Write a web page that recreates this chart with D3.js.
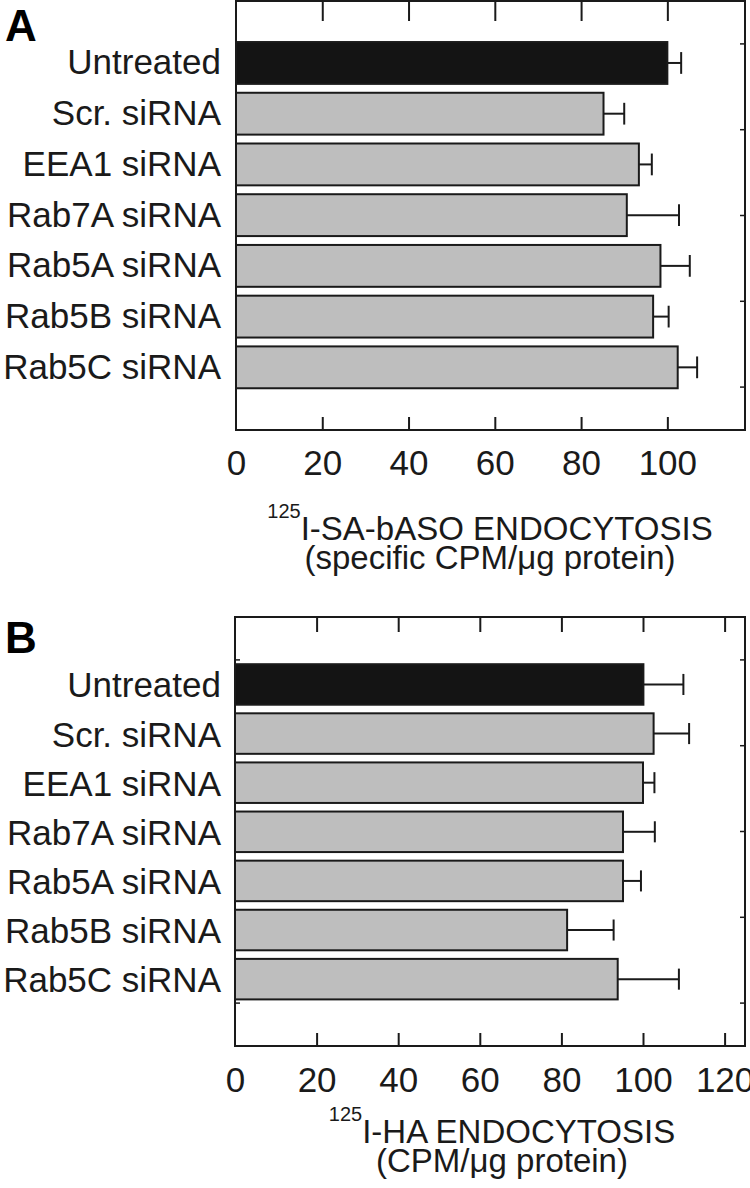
<!DOCTYPE html>
<html>
<head>
<meta charset="utf-8">
<script src="https://cdnjs.cloudflare.com/ajax/libs/d3/7.8.5/d3.min.js"></script>
<style>
  html, body { margin: 0; padding: 0; background: #fff; }
  svg { display: block; }
  text { font-family: "Liberation Sans", Arial, Helvetica, sans-serif; fill: #1a1a1a; }
</style>
</head>
<body>
<script>
// ---- data ----
const categories = ["Untreated", "Scr. siRNA", "EEA1 siRNA", "Rab7A siRNA", "Rab5A siRNA", "Rab5B siRNA", "Rab5C siRNA"];
const valuesA = [100, 85.2, 93.4, 90.6, 98.4, 96.7, 102.4];
const errorsA = [3.2, 4.8, 3.0, 12.1, 6.8, 3.6, 4.5];
const valuesB = [100.1, 102.6, 100.0, 95.1, 95.1, 81.4, 93.8];
const errorsB = [9.8, 8.7, 2.8, 7.8, 4.4, 11.4, 15.0];
const ticksA = [0, 20, 40, 60, 80, 100];
const ticksB = [0, 20, 40, 60, 80, 100, 120];
const panelLetters = ["A", "B"];
const titleA = ["125", "I-SA-bASO ENDOCYTOSIS", "(specific CPM/\u03BCg protein)"];
const titleB = ["125", "I-HA ENDOCYTOSIS", "(CPM/\u03BCg protein)"];

const W = 750, H = 1188;
const svg = d3.select("body").append("svg").attr("width", W).attr("height", H);

const panels = [
  { letter: panelLetters[0], letterY: 41, values: valuesA, errors: errorsA, ticks: ticksA, title: titleA,
    left: 236, right: 745, top: 1, bottom: 430, xmax: 118, band: [37.6, 392.7], labelDy: 11.5,
    topTick: 20, tickPad: 20, titleX: 490, titleY1: 540, titleY2: 569 },
  { letter: panelLetters[1], letterY: 653, values: valuesB, errors: errorsB, ticks: ticksB, title: titleB,
    left: 235, right: 745, top: 617, bottom: 1046, xmax: 125, band: [659.9, 1003.7], labelDy: 13,
    topTick: 15, tickPad: 21.4, titleX: 502, titleY1: 1143, titleY2: 1172 }
];

panels.forEach(p => {
  const g = svg.append("g");
  const x = d3.scaleLinear().domain([0, p.xmax]).range([p.left, p.right]);
  const y = d3.scaleBand().domain(categories).range(p.band).paddingInner(0.175).paddingOuter(0.0875);

  // panel letter
  g.append("text").attr("x", 5).attr("y", p.letterY)
    .style("font-size", "44px").style("font-weight", "bold").style("fill", "#000").text(p.letter);

  // side ticks (left & right, inward)
  const sideTicks = d3.range(5).map(i => p.top + (i + 0.5) * (p.bottom - p.top) / 5);
  g.selectAll(".lt").data(sideTicks).join("line")
    .attr("x1", p.left).attr("x2", p.left + 5).attr("y1", d => d).attr("y2", d => d)
    .attr("stroke", "#1a1a1a").attr("stroke-width", 1.5);
  g.selectAll(".rt").data(sideTicks).join("line")
    .attr("x1", p.right).attr("x2", p.right - 5).attr("y1", d => d).attr("y2", d => d)
    .attr("stroke", "#1a1a1a").attr("stroke-width", 1.5);

  // bottom axis with labels, inward ticks
  const axB = g.append("g").attr("transform", `translate(0,${p.bottom})`)
    .call(d3.axisBottom(x).tickValues(p.ticks).tickSize(-13).tickPadding(p.tickPad).tickFormat(d3.format("d")));
  axB.select(".domain").remove();
  axB.selectAll(".tick line").attr("stroke", "#1a1a1a").attr("stroke-width", 2)
    .style("display", d => d === 0 ? "none" : null);
  axB.selectAll(".tick text").style("font-size", "35px").style("font-family", "'Liberation Sans', Arial, sans-serif").attr("fill", "#1a1a1a");

  // top axis, ticks only
  const axT = g.append("g").attr("transform", `translate(0,${p.top})`)
    .call(d3.axisTop(x).tickValues(p.ticks.filter(d => d > 0)).tickSize(-p.topTick).tickFormat(""));
  axT.select(".domain").remove();
  axT.selectAll(".tick line").attr("stroke", "#1a1a1a").attr("stroke-width", 2);

  // category labels
  g.selectAll(".cat").data(categories).join("text")
    .attr("x", 221).attr("y", d => y(d) + y.bandwidth() / 2 + p.labelDy)
    .attr("text-anchor", "end").style("font-size", "35px").text(d => d);

  // error bars
  const capH = y.bandwidth() * 0.52;
  categories.forEach((c, i) => {
    const v = p.values[i], e = p.errors[i];
    const cy = y(c) + y.bandwidth() / 2;
    g.append("line").attr("x1", x(v)).attr("x2", x(v + e)).attr("y1", cy).attr("y2", cy)
      .attr("stroke", "#1a1a1a").attr("stroke-width", 2);
    g.append("line").attr("x1", x(v + e)).attr("x2", x(v + e)).attr("y1", cy - capH / 2).attr("y2", cy + capH / 2)
      .attr("stroke", "#1a1a1a").attr("stroke-width", 2);
  });

  // bars
  g.selectAll(".bar").data(categories).join("rect")
    .attr("x", x(0)).attr("y", d => y(d))
    .attr("width", (d, i) => x(p.values[i]) - x(0)).attr("height", y.bandwidth())
    .attr("fill", (d, i) => i === 0 ? "#141414" : "#bebebe")
    .attr("stroke", "#1a1a1a").attr("stroke-width", 2);

  // frame
  g.append("rect").attr("x", p.left).attr("y", p.top)
    .attr("width", p.right - p.left).attr("height", p.bottom - p.top)
    .attr("fill", "none").attr("stroke", "#1a1a1a").attr("stroke-width", 2);

  // axis title
  const t1 = g.append("text").attr("x", p.titleX).attr("y", p.titleY1).attr("text-anchor", "middle");
  t1.append("tspan").style("font-size", "20px").attr("dy", -22).text(p.title[0]);
  t1.append("tspan").style("font-size", "33px").attr("dy", 22).text(p.title[1]);
  g.append("text").attr("x", p.titleX).attr("y", p.titleY2).attr("text-anchor", "middle")
    .style("font-size", "33px").text(p.title[2]);
});
</script>
</body>
</html>
